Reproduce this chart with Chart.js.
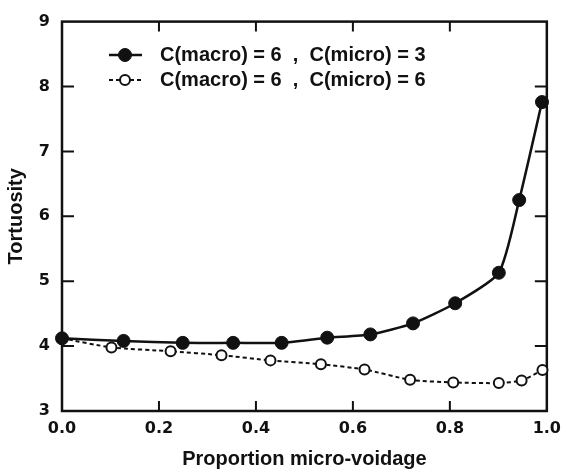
<!DOCTYPE html>
<html>
<head>
<meta charset="utf-8">
<script src="https://cdn.jsdelivr.net/npm/chart.js@4.4.0/dist/chart.umd.min.js"></script>
<style>
  html, body { margin: 0; padding: 0; background: #fff; }
  #wrap { width: 569px; height: 471px; }
</style>
</head>
<body>
<div id="wrap"><canvas id="tortuosityChart" width="569" height="471"></canvas></div>
<script>
// values
var X_TICKS = [0, 0.2, 0.4, 0.6, 0.8, 1.0];
var Y_TICKS = [3, 4, 5, 6, 7, 8, 9];

var MICRO3_X = [0, 0.127, 0.249, 0.353, 0.453, 0.547, 0.636, 0.724, 0.811, 0.901, 0.943, 0.99];
var MICRO3_Y = [4.12, 4.08, 4.05, 4.05, 4.05, 4.13, 4.18, 4.35, 4.66, 5.13, 6.25, 7.76];

var MICRO6_X = [0, 0.102, 0.224, 0.329, 0.430, 0.534, 0.624, 0.718, 0.807, 0.901, 0.948, 0.991];
var MICRO6_Y = [4.12, 3.98, 3.92, 3.86, 3.78, 3.72, 3.64, 3.48, 3.44, 3.43, 3.47, 3.63];

var LABELS = ['C(macro) = 6  ,  C(micro) = 3', 'C(macro) = 6  ,  C(micro) = 6'];

function toPoints(xs, ys) {
  return xs.map(function (x, i) { return { x: x, y: ys[i] }; });
}

var INK = '#111';
var TICK_FONT = { family: 'DejaVu Sans', weight: 'bold', size: 16 };
var TITLE_FONT = { family: 'Liberation Sans', weight: 'bold', size: 20 };

// frame + inward ticks on all four sides
var framePlugin = {
  id: 'frame',
  beforeDatasetsDraw: function (chart) {
    var a = chart.chartArea, ctx = chart.ctx;
    var xs = chart.scales.x, ys = chart.scales.y;
    ctx.save();
    ctx.strokeStyle = INK;
    ctx.lineWidth = 2.5;
    ctx.strokeRect(a.left, a.top, a.right - a.left, a.bottom - a.top);
    ctx.lineWidth = 2;
    ctx.beginPath();
    X_TICKS.slice(1, -1).forEach(function (v) {
      var px = xs.getPixelForValue(v);
      ctx.moveTo(px, a.bottom); ctx.lineTo(px, a.bottom - 10);
      ctx.moveTo(px, a.top); ctx.lineTo(px, a.top + 10);
    });
    Y_TICKS.slice(1, -1).forEach(function (v) {
      var py = ys.getPixelForValue(v);
      ctx.moveTo(a.left, py); ctx.lineTo(a.left + 12, py);
      ctx.moveTo(a.right, py); ctx.lineTo(a.right - 12, py);
    });
    ctx.stroke();
    ctx.restore();
  }
};

// legend drawn inside the plot, top-left
var legendPlugin = {
  id: 'insideLegend',
  afterDraw: function (chart) {
    var ctx = chart.ctx;
    var rows = [55, 80];
    ctx.save();
    chart.data.datasets.forEach(function (ds, i) {
      var y = rows[i];
      ctx.strokeStyle = INK;
      ctx.lineWidth = ds.borderWidth;
      ctx.setLineDash(ds.borderDash || []);
      ctx.beginPath();
      ctx.moveTo(109, y); ctx.lineTo(142, y);
      ctx.stroke();
      ctx.setLineDash([]);
      ctx.beginPath();
      ctx.arc(125, y, ds.pointRadius, 0, Math.PI * 2);
      ctx.fillStyle = ds.pointBackgroundColor;
      ctx.fill();
      ctx.lineWidth = ds.pointBorderWidth;
      ctx.stroke();
      ctx.fillStyle = INK;
      ctx.font = 'bold 20px "Liberation Sans"';
      ctx.textBaseline = 'middle';
      ctx.fillText(ds.label, 160, y);
    });
    ctx.restore();
  }
};

new Chart(document.getElementById('tortuosityChart'), {
  type: 'line',
  data: {
    datasets: [
      {
        label: LABELS[0],
        data: toPoints(MICRO3_X, MICRO3_Y),
        borderColor: INK, borderWidth: 2.5,
        pointRadius: 6.5, pointBackgroundColor: INK, pointBorderColor: INK, pointBorderWidth: 1,
        tension: 0.2, clip: false
      },
      {
        label: LABELS[1],
        data: toPoints(MICRO6_X, MICRO6_Y),
        borderColor: INK, borderWidth: 2, borderDash: [4, 3],
        pointRadius: 5, pointBackgroundColor: '#fff', pointBorderColor: INK, pointBorderWidth: 2,
        tension: 0.2, clip: false
      }
    ]
  },
  options: {
    responsive: false,
    devicePixelRatio: 1,
    animation: false,
    layout: { padding: { top: 12, right: 17, left: 0, bottom: 0 } },
    plugins: { legend: { display: false }, tooltip: { enabled: false } },
    scales: {
      x: {
        type: 'linear', min: 0, max: 1,
        afterFit: function (s) { s.height = 60; },
        afterBuildTicks: function (s) { s.ticks = X_TICKS.map(function (v) { return { value: v }; }); },
        grid: { display: false, drawTicks: false },
        border: { display: false },
        ticks: { color: INK, font: TICK_FONT, padding: 8, maxRotation: 0,
          callback: function (v) { return v.toFixed(1); } },
        title: { display: true, text: 'Proportion micro-voidage', color: INK, font: TITLE_FONT,
          padding: { top: 0, bottom: 0 } }
      },
      y: {
        min: 3, max: 9,
        afterFit: function (s) { s.width = 62; },
        afterBuildTicks: function (s) { s.ticks = Y_TICKS.map(function (v) { return { value: v }; }); },
        grid: { display: false, drawTicks: false },
        border: { display: false },
        ticks: { color: INK, font: TICK_FONT, padding: 12 },
        title: { display: true, text: 'Tortuosity', color: INK, font: TITLE_FONT,
          padding: { top: 4, bottom: 0 } }
      }
    }
  },
  plugins: [framePlugin, legendPlugin]
});
</script>
</body>
</html>
